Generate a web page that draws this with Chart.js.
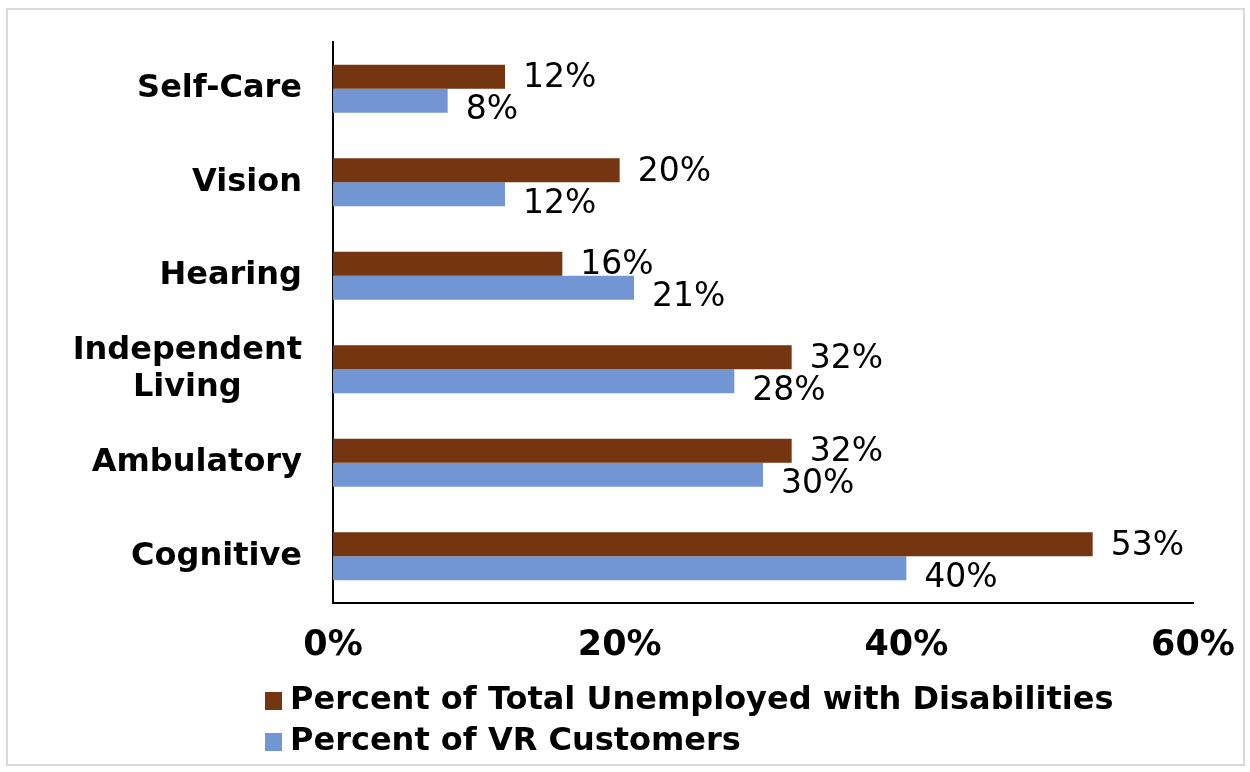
<!DOCTYPE html>
<html>
<head>
<meta charset="utf-8">
<script src="https://cdn.jsdelivr.net/npm/chart.js@4/dist/chart.umd.min.js"></script>
<style>
  html, body { margin: 0; padding: 0; background: #fff; }
  canvas { display: block; }
</style>
</head>
<body>
<canvas id="chart" width="1250" height="772"></canvas>
<script>
// kategorije invaliditeta (odozgo prema dole)
const kategorije = [
  ['Self-Care'],
  ['Vision'],
  ['Hearing'],
  ['Independent', 'Living'],
  ['Ambulatory'],
  ['Cognitive']
];

// procenti po seriji
const nezaposleni = [12, 20, 16, 32, 32, 53];
const vrKorisnici = [8, 12, 21, 28, 30, 40];

const nazivNezaposleni = 'Percent of Total Unemployed with Disabilities';
const nazivVr = 'Percent of VR Customers';

// oznake na x osi
const xTickovi = [0, 20, 40, 60];

const FONT = "'DejaVu Sans', Verdana, sans-serif";
const SMEDJA = '#753510';
const PLAVA = '#7196D3';

// okvir oko cijele slike
const okvirPlugin = {
  id: 'okvir',
  beforeDraw(chart) {
    const ctx = chart.ctx;
    ctx.save();
    ctx.fillStyle = '#fff';
    ctx.fillRect(0, 0, chart.width, chart.height);
    ctx.strokeStyle = '#d9d9d9';
    ctx.lineWidth = 2;
    ctx.strokeRect(7, 9, 1237, 756);
    ctx.restore();
  }
};

// nazivi kategorija lijevo od y ose (višeredni centrirani)
const kategorijePlugin = {
  id: 'kategorije',
  afterDraw(chart) {
    const ctx = chart.ctx;
    const yScale = chart.scales.y;
    const desno = chart.chartArea.left - 31;
    const visinaReda = 37;
    ctx.save();
    ctx.font = 'bold 32px ' + FONT;
    ctx.fillStyle = '#000';
    ctx.textBaseline = 'middle';
    ctx.textAlign = 'center';
    kategorije.forEach((linije, i) => {
      const yc = yScale.getPixelForTick(i);
      const sirina = Math.max(...linije.map(l => ctx.measureText(l).width));
      const cx = desno - sirina / 2;
      const pocetak = yc - (linije.length - 1) * visinaReda / 2;
      linije.forEach((l, j) => ctx.fillText(l, cx, pocetak + j * visinaReda));
    });
    ctx.restore();
  }
};

// vrijednosti pored kraja svake trake
const vrijednostiPlugin = {
  id: 'vrijednosti',
  afterDatasetsDraw(chart) {
    const ctx = chart.ctx;
    ctx.save();
    ctx.font = '33px ' + FONT;
    ctx.fillStyle = '#000';
    ctx.textBaseline = 'middle';
    ctx.textAlign = 'left';
    const pomak = [2, 10];
    chart.data.datasets.forEach((ds, d) => {
      chart.getDatasetMeta(d).data.forEach((bar, i) => {
        ctx.fillText(ds.data[i] + '%', bar.x + 18, bar.y + pomak[d]);
      });
    });
    ctx.restore();
  }
};

// legenda ispod grafa, poravnata lijevo
const legendaPlugin = {
  id: 'legenda',
  afterDraw(chart) {
    const ctx = chart.ctx;
    ctx.save();
    ctx.font = 'bold 32px ' + FONT;
    ctx.textBaseline = 'middle';
    ctx.textAlign = 'left';
    const redovi = [701, 742];
    chart.data.datasets.forEach((ds, d) => {
      const y = redovi[d];
      ctx.fillStyle = ds.backgroundColor;
      ctx.fillRect(265, y - 9, 17, 18);
      ctx.fillStyle = '#000';
      ctx.fillText(ds.label, 290, y);
    });
    ctx.restore();
  }
};

new Chart(document.getElementById('chart'), {
  type: 'bar',
  data: {
    labels: kategorije.map(k => k.join(' ')),
    datasets: [
      {
        label: nazivNezaposleni,
        data: nezaposleni,
        backgroundColor: SMEDJA,
        categoryPercentage: 0.513,
        barPercentage: 1.0
      },
      {
        label: nazivVr,
        data: vrKorisnici,
        backgroundColor: PLAVA,
        categoryPercentage: 0.513,
        barPercentage: 1.0
      }
    ]
  },
  options: {
    indexAxis: 'y',
    responsive: false,
    animation: false,
    layout: {
      padding: { left: 0, right: 57, top: 42, bottom: 99 }
    },
    plugins: {
      legend: { display: false },
      tooltip: { enabled: false }
    },
    scales: {
      x: {
        min: 0,
        max: 60,
        afterBuildTicks: (scale) => {
          scale.ticks = xTickovi.map(v => ({ value: v }));
        },
        afterFit: (scale) => {
          scale.height = 70;
          scale.paddingLeft = 0;
          scale.paddingRight = 0;
        },
        grid: { display: false, drawTicks: false },
        border: { display: true, color: '#000', width: 2 },
        ticks: {
          padding: 22,
          color: '#000',
          font: { family: FONT, size: 35, weight: 'bold' },
          maxRotation: 0,
          callback: (v) => v + '%'
        }
      },
      y: {
        afterFit: (scale) => { scale.width = 333; },
        grid: { display: false, drawTicks: false },
        border: { display: true, color: '#000', width: 2 },
        ticks: { display: false }
      }
    }
  },
  plugins: [okvirPlugin, kategorijePlugin, vrijednostiPlugin, legendaPlugin]
});
</script>
</body>
</html>
